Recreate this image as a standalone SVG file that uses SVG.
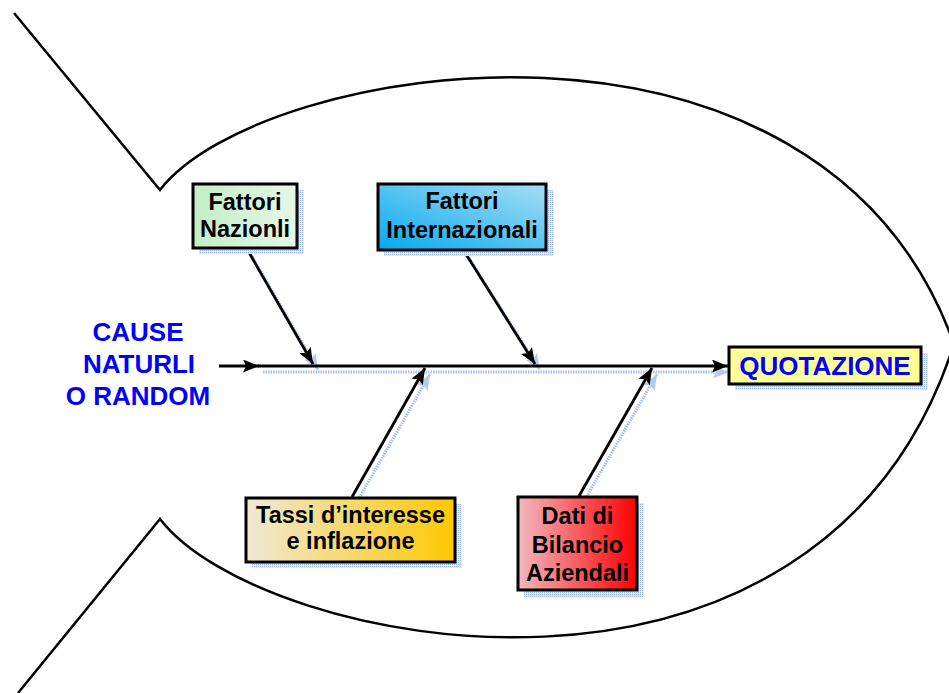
<svg xmlns="http://www.w3.org/2000/svg" width="949" height="693" viewBox="0 0 949 693">
<style>
.outline{fill:none;stroke:#000;stroke-width:2.5;stroke-linejoin:miter}
.box{stroke:#000;stroke-width:3}
.shadow{fill:url(#dots)}
.lbl{font-family:"Liberation Sans",Arial,sans-serif;font-weight:bold;font-size:23.5px;fill:#000;text-anchor:middle}
.blue{font-family:"Liberation Sans",Arial,sans-serif;font-weight:bold;font-size:26px;fill:#0000ff;text-anchor:middle}
.arr{stroke:#000;stroke-width:2.8;fill:none;marker-end:url(#ah)}
.sarr{stroke:#a9c0e8;stroke-width:3;stroke-dasharray:1.5 1;fill:none;marker-end:url(#sah)}
</style>
<defs>
<pattern id="dots" width="2" height="2" patternUnits="userSpaceOnUse">
<rect width="2" height="2" fill="#dfe8f6"/>
<rect width="1" height="1" fill="#9fb9e4"/>
</pattern>
<marker id="ah" markerUnits="userSpaceOnUse" markerWidth="17" markerHeight="13" refX="16" refY="6.5" orient="auto">
<path d="M0,0 L16,6.5 L0,13 L3,6.5 z" fill="#000"/>
</marker>
<marker id="sah" markerUnits="userSpaceOnUse" markerWidth="17" markerHeight="13" refX="16" refY="6.5" orient="auto">
<path d="M0,0 L16,6.5 L0,13 L3,6.5 z" fill="#b8cbec"/>
</marker>
<linearGradient id="gNaz" x1="0" y1="0" x2="1" y2="0">
<stop offset="0" stop-color="#c2eec6"/><stop offset="1" stop-color="#e6f7e8"/>
</linearGradient>
<linearGradient id="gInt" x1="0" y1="1" x2="1" y2="0">
<stop offset="0" stop-color="#04aaee"/><stop offset="1" stop-color="#a8ddf6"/>
</linearGradient>
<linearGradient id="gTas" x1="0" y1="0" x2="1" y2="0">
<stop offset="0" stop-color="#efe9d6"/><stop offset="1" stop-color="#ffc800"/>
</linearGradient>
<linearGradient id="gDat" x1="0" y1="0" x2="1" y2="0">
<stop offset="0" stop-color="#f2b8bf"/><stop offset="1" stop-color="#ff0000"/>
</linearGradient>
</defs>

<g id="fish">
<path class="outline" d="M14,13 L160,190 C260,60 820,-30 954,344 C820,760 260,650 160,519 L18,693"/>
</g>

<g id="connectors">
<g id="connector-shadows" transform="translate(5,6)">
<line class="sarr" x1="258" y1="366" x2="724" y2="366"/>
<line class="sarr" x1="247" y1="250" x2="313" y2="364"/>
<line class="sarr" x1="464" y1="252" x2="535" y2="364"/>
<line class="sarr" x1="352" y1="496" x2="425" y2="368"/>
<line class="sarr" x1="579" y1="495" x2="652" y2="368"/>
</g>
<line class="arr" x1="219" y1="366" x2="259" y2="366"/>
<line class="arr" x1="258" y1="366" x2="728" y2="366"/>
<line class="arr" x1="247" y1="249" x2="313" y2="364"/>
<line class="arr" x1="464" y1="251" x2="535" y2="364"/>
<line class="arr" x1="352" y1="497" x2="425" y2="368"/>
<line class="arr" x1="579" y1="496" x2="652" y2="368"/>
</g>

<g id="cause">
<text class="blue" x="138" y="341">CAUSE</text>
<text class="blue" x="139" y="373">NATURLI</text>
<text class="blue" x="138" y="405">O RANDOM</text>
</g>

<g id="fattori-nazionali">
<rect class="shadow" x="199" y="190" width="105" height="64"/>
<rect class="box" x="193" y="184" width="104" height="64" fill="url(#gNaz)"/>
<text class="lbl" x="245" y="210">Fattori</text>
<text class="lbl" x="245" y="237">Nazionli</text>
</g>

<g id="fattori-internazionali">
<rect class="shadow" x="384" y="190" width="169" height="66"/>
<rect class="box" x="378" y="184" width="168" height="66" fill="url(#gInt)"/>
<text class="lbl" x="462" y="209">Fattori</text>
<text class="lbl" x="462" y="238">Internazionali</text>
</g>

<g id="tassi">
<rect class="shadow" x="252" y="504" width="210" height="64"/>
<rect class="box" x="246" y="498" width="209" height="64" fill="url(#gTas)"/>
<text class="lbl" x="350.5" y="523">Tassi d’interesse</text>
<text class="lbl" x="350.5" y="549">e inflazione</text>
</g>

<g id="dati">
<rect class="shadow" x="524" y="503" width="120" height="94"/>
<rect class="box" x="518" y="497" width="119" height="93" fill="url(#gDat)"/>
<text class="lbl" x="577.5" y="524">Dati di</text>
<text class="lbl" x="577.5" y="553">Bilancio</text>
<text class="lbl" x="577.5" y="581">Aziendali</text>
</g>

<g id="quotazione">
<rect class="shadow" x="735" y="353" width="193" height="37"/>
<rect class="box" x="729" y="347" width="192" height="37" fill="#ffff99"/>
<text class="blue" x="825" y="375">QUOTAZIONE</text>
</g>
</svg>
